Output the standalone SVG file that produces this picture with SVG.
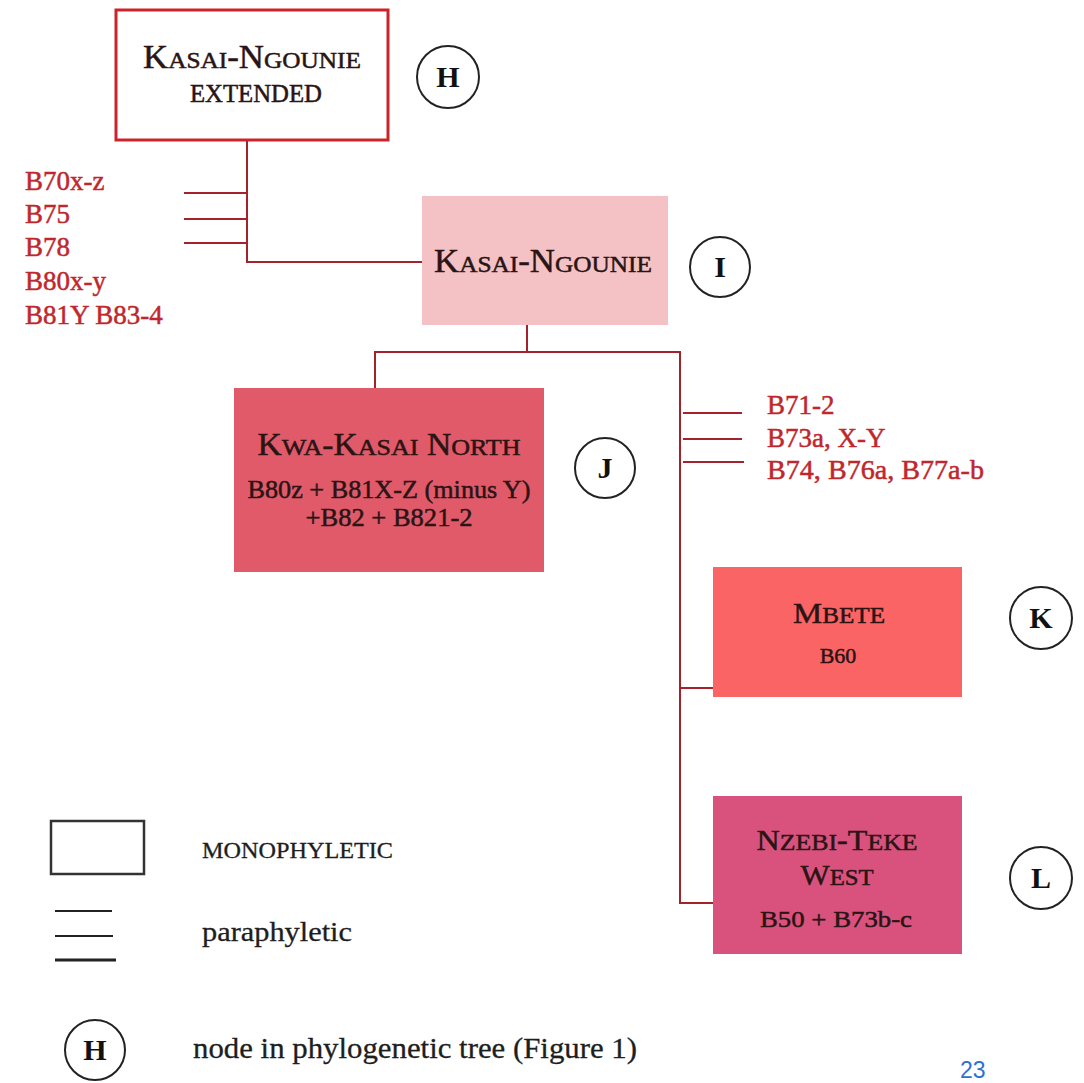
<svg xmlns="http://www.w3.org/2000/svg" width="1084" height="1083" viewBox="0 0 1084 1083">
<style>
text { font-family: "Liberation Serif", "DejaVu Serif", serif; }
.t { fill: #2a1414; stroke: #2a1414; stroke-width: 0.5; text-anchor: middle; }
.lab { fill: #c0272d; stroke: #c0272d; stroke-width: 0.5; font-size: 27px; }
.conn { stroke: #a3222c; stroke-width: 2; fill: none; }
.circ { fill: #fff; stroke: #222; stroke-width: 2; }
.cl { font-weight: bold; font-size: 30px; text-anchor: middle; fill: #111; }
.leg { stroke: #222; fill: none; }
.lt { fill: #1e1e1e; stroke: #1e1e1e; stroke-width: 0.3; }
</style>
<rect width="1084" height="1083" fill="#fff"/>

<g id="connectors">
  <path class="conn" d="M247 140 V262 H422"/>
  <line class="conn" x1="184" y1="193" x2="247" y2="193"/>
  <line class="conn" x1="184" y1="219" x2="247" y2="219"/>
  <line class="conn" x1="184" y1="243" x2="247" y2="243" stroke-width="3"/>
  <path class="conn" d="M527 325 V352 M375 388 V352 H680 V903 H713 M680 688 H713"/>
  <line class="conn" x1="683" y1="413" x2="742" y2="413" stroke-width="1.5"/>
  <line class="conn" x1="683" y1="439" x2="742" y2="439" stroke-width="2.5"/>
  <line class="conn" x1="683" y1="462" x2="744" y2="462" stroke-width="1.5"/>
</g>

<g id="node-H">
  <rect x="116" y="10" width="272" height="130" fill="#fff" stroke="#cc2229" stroke-width="3"/>
  <text class="t" x="252" y="68" textLength="218" lengthAdjust="spacingAndGlyphs"><tspan font-size="33">K</tspan><tspan font-size="24">ASAI</tspan><tspan font-size="33">-N</tspan><tspan font-size="24">GOUNIE</tspan></text>
  <text class="t" x="256" y="102" font-size="25" textLength="132" lengthAdjust="spacingAndGlyphs">EXTENDED</text>
  <circle class="circ" cx="448" cy="77" r="31"/>
  <text class="cl" x="448" y="87">H</text>
</g>

<g id="labels-left">
  <text class="lab" x="25" y="190">B70x-z</text>
  <text class="lab" x="25" y="223">B75</text>
  <text class="lab" x="25" y="256">B78</text>
  <text class="lab" x="25" y="290">B80x-y</text>
  <text class="lab" x="25" y="324">B81Y B83-4</text>
</g>

<g id="node-I">
  <rect x="422" y="196" width="246" height="129" fill="#f4c2c5"/>
  <text class="t" x="543" y="272" textLength="218" lengthAdjust="spacingAndGlyphs"><tspan font-size="33">K</tspan><tspan font-size="24">ASAI</tspan><tspan font-size="33">-N</tspan><tspan font-size="24">GOUNIE</tspan></text>
  <circle class="circ" cx="720" cy="267" r="30"/>
  <text class="cl" x="720" y="277">I</text>
</g>

<g id="node-J">
  <rect x="234" y="388" width="310" height="184" fill="#e05a6a"/>
  <text class="t" x="389" y="455" textLength="263" lengthAdjust="spacingAndGlyphs"><tspan font-size="31">K</tspan><tspan font-size="24">WA</tspan><tspan font-size="31">-K</tspan><tspan font-size="24">ASAI</tspan><tspan font-size="31"> N</tspan><tspan font-size="24">ORTH</tspan></text>
  <text class="t" x="389" y="498" font-size="26" textLength="283" lengthAdjust="spacingAndGlyphs">B80z + B81X-Z (minus Y)</text>
  <text class="t" x="389" y="526" font-size="26" textLength="167" lengthAdjust="spacingAndGlyphs">+B82 + B821-2</text>
  <circle class="circ" cx="605" cy="468" r="30"/>
  <text class="cl" x="605" y="478">J</text>
</g>

<g id="labels-right">
  <text class="lab" x="767" y="414" font-size="26">B71-2</text>
  <text class="lab" x="767" y="447" font-size="26">B73a, X-Y</text>
  <text class="lab" x="767" y="479" font-size="26" textLength="217" lengthAdjust="spacingAndGlyphs">B74, B76a, B77a-b</text>
</g>

<g id="node-K">
  <rect x="713" y="567" width="249" height="130" fill="#fb6464"/>
  <text class="t" x="839" y="623" textLength="92" lengthAdjust="spacingAndGlyphs"><tspan font-size="30">M</tspan><tspan font-size="23">BETE</tspan></text>
  <text class="t" x="838" y="663" font-size="22">B60</text>
  <circle class="circ" cx="1041" cy="618" r="31"/>
  <text class="cl" x="1041" y="628">K</text>
</g>

<g id="node-L">
  <rect x="713" y="796" width="249" height="158" fill="#d9527e"/>
  <text class="t" x="837" y="850" textLength="161" lengthAdjust="spacingAndGlyphs"><tspan font-size="30">N</tspan><tspan font-size="24">ZEBI</tspan><tspan font-size="30">-T</tspan><tspan font-size="24">EKE</tspan></text>
  <text class="t" x="837" y="885" textLength="73" lengthAdjust="spacingAndGlyphs"><tspan font-size="30">W</tspan><tspan font-size="24">EST</tspan></text>
  <text class="t" x="836" y="927" font-size="24" textLength="152" lengthAdjust="spacingAndGlyphs">B50 + B73b-c</text>
  <circle class="circ" cx="1041" cy="878" r="31"/>
  <text class="cl" x="1041" y="888">L</text>
</g>

<g id="legend">
  <rect x="51" y="821" width="93" height="53" fill="#fff" stroke="#333" stroke-width="2.5"/>
  <text class="lt" x="202" y="858" font-size="23" textLength="191" lengthAdjust="spacingAndGlyphs">MONOPHYLETIC</text>
  <line class="leg" x1="55" y1="911" x2="112" y2="911" stroke-width="2"/>
  <line class="leg" x1="55" y1="936" x2="113" y2="936" stroke-width="2"/>
  <line class="leg" x1="55" y1="960" x2="116" y2="960" stroke-width="3"/>
  <text class="lt" x="202" y="941" font-size="28" textLength="150" lengthAdjust="spacingAndGlyphs">paraphyletic</text>
  <circle class="circ" cx="95" cy="1050" r="30"/>
  <text class="cl" x="95" y="1060">H</text>
  <text class="lt" x="193" y="1058" font-size="29" textLength="444" lengthAdjust="spacingAndGlyphs">node in phylogenetic tree (Figure 1)</text>
</g>

<text x="960" y="1078" font-size="23" fill="#2f6fd0" style="font-family:'Liberation Sans', Arial, sans-serif">23</text>
</svg>
